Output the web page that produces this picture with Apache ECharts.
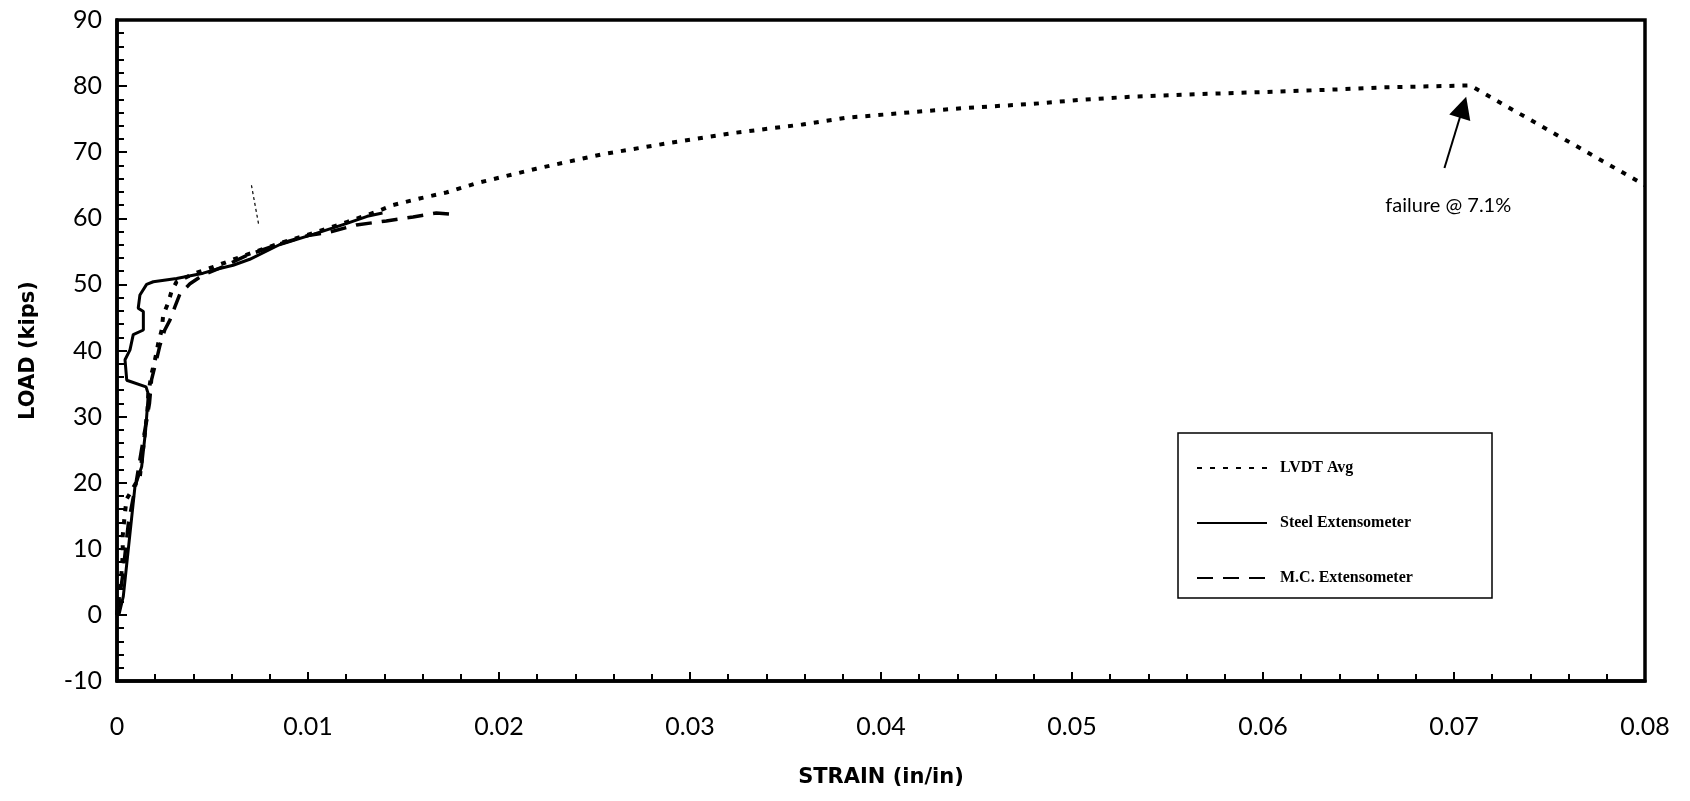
<!DOCTYPE html>
<html><head><meta charset="utf-8">
<script src="https://cdn.jsdelivr.net/npm/echarts@6/dist/echarts.min.js"></script>
<style>html,body{margin:0;padding:0;background:#fff}#c{width:1690px;height:801px}</style>
</head><body><div id="c"></div>
<script>
// ---- data (strain in/in, load kips) ----
const xTickLabels = ['0','0.01','0.02','0.03','0.04','0.05','0.06','0.07','0.08'];
const yTickLabels = ['-10','0','10','20','30','40','50','60','70','80','90'];

const lvdtAvg = [
  [0,0],[0.0002,5],[0.0003,9],[0.0003,12],[0.0004,15],[0.0005,17.5],[0.0009,19.5],[0.0012,21],
  [0.0014,26],[0.0016,31],[0.00164,33.5],[0.00181,36.5],[0.00199,38.6],[0.00216,41.1],
  [0.00234,43.1],[0.00242,45.4],[0.00268,47.2],[0.00286,49.0],[0.00312,50.4],[0.004,51.6],
  [0.005,52.6],[0.0065,54.2],[0.0085,56.2],[0.0103,57.8],[0.012,59.4],[0.0135,60.9],
  [0.01445,62.0],[0.01584,63.0],[0.01724,63.9],[0.01881,65.3],[0.02195,67.5],[0.02543,69.7],
  [0.02892,71.4],[0.0324,72.95],[0.03589,74.2],[0.03815,75.2],[0.04181,76.1],[0.04443,76.7],
  [0.04791,77.3],[0.05035,77.9],[0.05314,78.4],[0.05663,78.8],[0.06011,79.1],[0.06395,79.5],
  [0.06621,79.8],[0.07084,80.1],[0.08,65.0]
];
const steelExt = [
  [0.0001,0],[0.00033,2.8],[0.00094,19.4],[0.00129,22.4],[0.0015,28],[0.00164,33.4],
  [0.00152,34.5],[0.00051,35.5],[0.00042,38.6],[0.00068,40.1],[0.00085,42.4],[0.00138,43.1],
  [0.00138,45.9],[0.00111,46.4],[0.0012,48.4],[0.00155,50.0],[0.0019,50.4],[0.00312,50.9],
  [0.00451,51.7],[0.00521,52.3],[0.00608,52.9],[0.00695,53.8],[0.0085,56.0],[0.0103,57.6],
  [0.012,59.2],[0.0131,60.3],[0.0139,60.8]
];
const mcExt = [
  [0,0],[0.0003,6],[0.0006,14],[0.001,20],[0.0014,27],[0.0017,32],[0.00181,35.6],[0.00207,38.6],
  [0.00225,40.8],[0.0025,43.1],[0.00277,44.6],[0.00303,46.6],[0.0033,48.6],[0.00382,50.1],
  [0.0045,51.4],[0.0055,52.6],[0.0068,54.4],[0.0085,56.1],[0.01,57.4],[0.0111,57.9],
  [0.01253,59.0],[0.0141,59.6],[0.0155,60.2],[0.01672,60.8],[0.01758,60.6]
];
const strayMark = [[0.00704,65.0],[0.00742,59.0]];
const arrowTail = [0.0695,67.6];
const arrowHead = [0.07047,76.8];
const noteAnchor = [0.0697,62.0];
const noteText = 'failure @ 7.1%';
const seriesNames = ['LVDT Avg','Steel Extensometer','M.C. Extensometer'];

const chart = echarts.init(document.getElementById('c'), null, {renderer:'canvas'});
const tickFont = {fontFamily:'Lato', fontSize:25, color:'#000'};
const titleFont = {fontFamily:'DejaVu Sans',fontSize:21,fontWeight:'bold',color:'#000'};
chart.setOption({
  animation:false,
  backgroundColor:'#fff',
  color:['#000','#000','#000','#000'],
  grid:{left:117,right:45,top:20,bottom:120,show:true,borderColor:'#000',borderWidth:3.5,backgroundColor:'transparent'},
  xAxis:{
    type:'value',min:0,max:0.08,interval:0.01,
    name:'STRAIN (in/in)',nameLocation:'middle',nameGap:86,
    nameTextStyle:titleFont,
    axisLine:{onZero:false,lineStyle:{color:'#000',width:3.5}},
    axisTick:{inside:true,length:9,lineStyle:{color:'#000',width:2}},
    minorTick:{show:true,splitNumber:5,length:7,lineStyle:{color:'#000',width:2}},
    splitLine:{show:false},minorSplitLine:{show:false},
    axisLabel:{...tickFont,margin:33,formatter:v=>xTickLabels[Math.round(v/0.01)]}
  },
  yAxis:{
    type:'value',min:-10,max:90,interval:10,
    name:'LOAD (kips)',nameLocation:'middle',nameGap:78,nameRotate:90,
    nameTextStyle:titleFont,
    axisLine:{show:true,onZero:false,lineStyle:{color:'#000',width:3.5}},
    axisTick:{show:true,inside:true,length:10,lineStyle:{color:'#000',width:2}},
    minorTick:{show:true,splitNumber:5,length:7,lineStyle:{color:'#000',width:2}},
    splitLine:{show:false},minorSplitLine:{show:false},
    axisLabel:{...tickFont,margin:15,formatter:v=>yTickLabels[Math.round((v+10)/10)]}
  },
  legend:{
    data:seriesNames,orient:'vertical',left:1196,top:460,padding:0,itemGap:39,
    itemWidth:70,itemHeight:14,
    itemStyle:{opacity:0,borderWidth:0},
    textStyle:{fontFamily:'Liberation Serif',fontSize:16,fontWeight:'bold',color:'#000',padding:[0,0,0,8]}
  },
  graphic:[{type:'rect',shape:{x:1178,y:433,width:314,height:165},style:{fill:'none',stroke:'#000',lineWidth:1.5},z:100}],
  series:[
    {name:seriesNames[0],type:'line',data:lvdtAvg,symbol:'none',
     lineStyle:{color:'#000',width:4,type:[5,8]},
     markLine:{silent:true,symbol:['none','triangle'],symbolSize:22,
       lineStyle:{color:'#000',width:2,type:'solid'},label:{show:false},
       data:[[{coord:arrowTail},{coord:arrowHead}]]},
     markPoint:{silent:true,symbol:'rect',symbolSize:1,itemStyle:{color:'rgba(0,0,0,0)'},
       label:{show:true,position:'inside',formatter:noteText,fontFamily:'Lato',fontSize:20,color:'#000'},
       data:[{coord:noteAnchor}]}
    },
    {name:seriesNames[1],type:'line',data:steelExt,symbol:'none',
     lineStyle:{color:'#000',width:3,type:'solid'}},
    {name:seriesNames[2],type:'line',data:mcExt,symbol:'none',
     lineStyle:{color:'#000',width:3.5,type:[16,10]}},
    {name:'scan',type:'line',data:strayMark,symbol:'none',silent:true,
     lineStyle:{color:'#000',width:1.2,type:[3,3]}}
  ]
});
</script>
</body></html>
